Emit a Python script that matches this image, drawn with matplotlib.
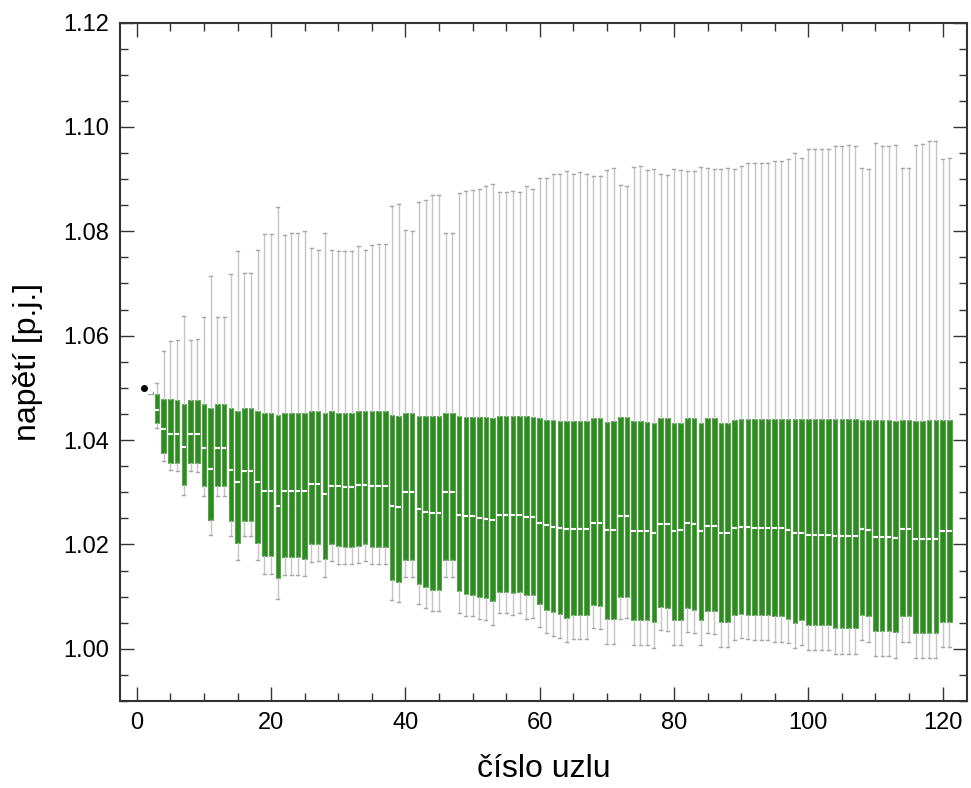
import numpy as np
import matplotlib
matplotlib.use('Agg')
from matplotlib import pyplot as plt
from matplotlib.ticker import MultipleLocator, FormatStrFormatter

plt.rcParams['font.family'] = ['Liberation Sans', 'DejaVu Sans']

# node 1 is a single value (slack bus)
node1_x = 1
node1_val = 1.05

# nodes 2..121
nodes = list(range(2, 122))

whis_hi = [1.0492, 1.0509, 1.0571, 1.0589, 1.0592, 1.0637, 1.0592, 1.0593, 1.0636, 1.0714,
           1.0636, 1.0636, 1.0719, 1.0763, 1.0720, 1.0720, 1.0764, 1.0794, 1.0794, 1.0846,
           1.0793, 1.0796, 1.0796, 1.0800, 1.0768, 1.0764, 1.0796, 1.0765, 1.0763, 1.0762,
           1.0762, 1.0771, 1.0765, 1.0773, 1.0775, 1.0775, 1.0848, 1.0852, 1.0802, 1.0801,
           1.0856, 1.0860, 1.0870, 1.0870, 1.0797, 1.0796, 1.0873, 1.0878, 1.0879, 1.0882,
           1.0887, 1.0890, 1.0875, 1.0875, 1.0878, 1.0875, 1.0886, 1.0881, 1.0903, 1.0903,
           1.0910, 1.0910, 1.0916, 1.0910, 1.0913, 1.0910, 1.0905, 1.0905, 1.0918, 1.0922,
           1.0888, 1.0887, 1.0924, 1.0925, 1.0918, 1.0920, 1.0910, 1.0908, 1.0920, 1.0918,
           1.0915, 1.0916, 1.0924, 1.0922, 1.0920, 1.0920, 1.0922, 1.0920, 1.0925, 1.0930,
           1.0931, 1.0931, 1.0931, 1.0935, 1.0934, 1.0939, 1.0950, 1.0941, 1.0958, 1.0957,
           1.0957, 1.0957, 1.0964, 1.0964, 1.0965, 1.0964, 1.0921, 1.0919, 1.0970, 1.0964,
           1.0964, 1.0965, 1.0922, 1.0921, 1.0965, 1.0967, 1.0973, 1.0973, 1.0939, 1.0941]

q3 = [1.0492, 1.0489, 1.0479, 1.0478, 1.0477, 1.0470, 1.0477, 1.0477, 1.0469, 1.0462,
      1.0469, 1.0469, 1.0462, 1.0455, 1.0462, 1.0462, 1.0455, 1.0452, 1.0452, 1.0448,
      1.0451, 1.0452, 1.0452, 1.0452, 1.0455, 1.0455, 1.0451, 1.0455, 1.0452, 1.0452,
      1.0452, 1.0455, 1.0455, 1.0455, 1.0455, 1.0455, 1.0448, 1.0447, 1.0452, 1.0452,
      1.0447, 1.0447, 1.0446, 1.0446, 1.0451, 1.0451, 1.0446, 1.0445, 1.0445, 1.0445,
      1.0444, 1.0442, 1.0446, 1.0446, 1.0446, 1.0446, 1.0446, 1.0445, 1.0442, 1.0439,
      1.0439, 1.0437, 1.0436, 1.0436, 1.0436, 1.0436, 1.0442, 1.0442, 1.0435, 1.0436,
      1.0445, 1.0445, 1.0436, 1.0436, 1.0435, 1.0433, 1.0442, 1.0442, 1.0433, 1.0432,
      1.0442, 1.0442, 1.0433, 1.0442, 1.0442, 1.0432, 1.0432, 1.0438, 1.0441, 1.0441,
      1.0441, 1.0441, 1.0441, 1.0441, 1.0441, 1.0441, 1.0440, 1.0440, 1.0440, 1.0440,
      1.0440, 1.0440, 1.0440, 1.0440, 1.0440, 1.0440, 1.0438, 1.0438, 1.0438, 1.0438,
      1.0438, 1.0437, 1.0438, 1.0438, 1.0436, 1.0437, 1.0438, 1.0438, 1.0438, 1.0438]

med = [1.0490, 1.0457, 1.0422, 1.0411, 1.0411, 1.0386, 1.0411, 1.0411, 1.0384, 1.0344,
       1.0384, 1.0384, 1.0343, 1.0319, 1.0341, 1.0341, 1.0319, 1.0303, 1.0303, 1.0274,
       1.0302, 1.0302, 1.0302, 1.0302, 1.0316, 1.0316, 1.0297, 1.0312, 1.0312, 1.0311,
       1.0311, 1.0314, 1.0314, 1.0312, 1.0312, 1.0312, 1.0273, 1.0271, 1.0301, 1.0300,
       1.0268, 1.0263, 1.0260, 1.0260, 1.0300, 1.0300, 1.0257, 1.0254, 1.0254, 1.0251,
       1.0249, 1.0246, 1.0257, 1.0257, 1.0256, 1.0256, 1.0252, 1.0252, 1.0241, 1.0237,
       1.0234, 1.0232, 1.0229, 1.0230, 1.0230, 1.0230, 1.0242, 1.0241, 1.0227, 1.0227,
       1.0254, 1.0254, 1.0225, 1.0225, 1.0225, 1.0222, 1.0240, 1.0240, 1.0225, 1.0227,
       1.0242, 1.0239, 1.0225, 1.0236, 1.0236, 1.0221, 1.0221, 1.0231, 1.0233, 1.0233,
       1.0232, 1.0232, 1.0231, 1.0231, 1.0231, 1.0228, 1.0222, 1.0222, 1.0218, 1.0219,
       1.0219, 1.0219, 1.0216, 1.0216, 1.0216, 1.0216, 1.0229, 1.0228, 1.0214, 1.0214,
       1.0214, 1.0212, 1.0229, 1.0229, 1.0211, 1.0211, 1.0211, 1.0211, 1.0225, 1.0225]

q1 = [1.0488, 1.0432, 1.0375, 1.0356, 1.0356, 1.0314, 1.0356, 1.0356, 1.0312, 1.0246,
      1.0312, 1.0312, 1.0244, 1.0203, 1.0244, 1.0244, 1.0203, 1.0178, 1.0178, 1.0135,
      1.0175, 1.0176, 1.0176, 1.0173, 1.0200, 1.0200, 1.0173, 1.0200, 1.0197, 1.0195,
      1.0195, 1.0197, 1.0200, 1.0196, 1.0196, 1.0196, 1.0132, 1.0128, 1.0171, 1.0171,
      1.0125, 1.0119, 1.0112, 1.0112, 1.0171, 1.0170, 1.0110, 1.0105, 1.0103, 1.0099,
      1.0097, 1.0091, 1.0109, 1.0109, 1.0107, 1.0109, 1.0103, 1.0103, 1.0085, 1.0075,
      1.0071, 1.0067, 1.0060, 1.0064, 1.0064, 1.0064, 1.0084, 1.0082, 1.0057, 1.0057,
      1.0100, 1.0100, 1.0056, 1.0056, 1.0056, 1.0051, 1.0080, 1.0079, 1.0055, 1.0056,
      1.0078, 1.0074, 1.0056, 1.0073, 1.0073, 1.0051, 1.0051, 1.0065, 1.0066, 1.0065,
      1.0064, 1.0064, 1.0064, 1.0062, 1.0062, 1.0057, 1.0050, 1.0055, 1.0045, 1.0046,
      1.0046, 1.0046, 1.0039, 1.0039, 1.0039, 1.0039, 1.0064, 1.0063, 1.0035, 1.0035,
      1.0035, 1.0033, 1.0062, 1.0062, 1.0031, 1.0031, 1.0031, 1.0031, 1.0051, 1.0051]

whis_lo = [1.0488, 1.0424, 1.0360, 1.0342, 1.0340, 1.0294, 1.0340, 1.0339, 1.0293, 1.0218,
           1.0292, 1.0292, 1.0216, 1.0171, 1.0216, 1.0216, 1.0170, 1.0143, 1.0143, 1.0095,
           1.0142, 1.0142, 1.0142, 1.0140, 1.0167, 1.0169, 1.0137, 1.0168, 1.0163, 1.0162,
           1.0162, 1.0164, 1.0168, 1.0163, 1.0163, 1.0163, 1.0093, 1.0090, 1.0137, 1.0137,
           1.0085, 1.0079, 1.0072, 1.0072, 1.0137, 1.0137, 1.0069, 1.0063, 1.0062, 1.0057,
           1.0055, 1.0046, 1.0069, 1.0068, 1.0065, 1.0068, 1.0058, 1.0060, 1.0041, 1.0030,
           1.0025, 1.0020, 1.0014, 1.0019, 1.0018, 1.0018, 1.0039, 1.0038, 1.0010, 1.0010,
           1.0058, 1.0059, 1.0008, 1.0008, 1.0008, 1.0002, 1.0036, 1.0034, 1.0008, 1.0008,
           1.0033, 1.0031, 1.0007, 1.0030, 1.0029, 1.0003, 1.0003, 1.0017, 1.0020, 1.0018,
           1.0017, 1.0017, 1.0017, 1.0014, 1.0014, 1.0011, 1.0002, 1.0007, 0.9997, 0.9998,
           0.9997, 0.9997, 0.9990, 0.9990, 0.9990, 0.9990, 1.0016, 1.0014, 0.9986, 0.9987,
           0.9986, 0.9983, 1.0014, 1.0014, 0.9982, 0.9982, 0.9983, 0.9983, 1.0003, 1.0004]

stats = []
for i in range(len(nodes)):
    stats.append({'whislo': whis_lo[i], 'q1': q1[i], 'med': med[i],
                  'q3': q3[i], 'whishi': whis_hi[i], 'fliers': []})

fig = plt.figure(figsize=(9.71, 7.88), dpi=100)
ax = fig.add_axes([0.1236, 0.1104, 0.872, 0.861])

ax.bxp(stats, positions=nodes, widths=0.68, patch_artist=True,
       showfliers=False, capwidths=0.45,
       boxprops=dict(facecolor='#2e8b22', edgecolor='#3a9a2e', linewidth=0.5),
       medianprops=dict(color='white', linewidth=1.5),
       whiskerprops=dict(color='#c4c4c4', linewidth=1.0),
       capprops=dict(color='#a8a8a8', linewidth=1.0),
       manage_ticks=False)

ax.plot([node1_x], [node1_val], 'o', color='black', markersize=4)

ax.set_xlim(-2.5, 123.6)
ax.set_ylim(0.99, 1.12)

ax.xaxis.set_major_locator(MultipleLocator(20))
ax.xaxis.set_minor_locator(MultipleLocator(5))
ax.yaxis.set_major_locator(MultipleLocator(0.02))
ax.yaxis.set_minor_locator(MultipleLocator(0.005))
ax.yaxis.set_major_formatter(FormatStrFormatter('%.2f'))

ax.tick_params(which='both', direction='in', top=True, right=True,
               colors='#333333', labelcolor='black', labelsize=17, width=1.0)
ax.tick_params(which='major', length=10, pad=8)
ax.tick_params(which='minor', length=6)

for s in ax.spines.values():
    s.set_linewidth(1.5)
    s.set_color('#333333')

ax.set_xlabel('číslo uzlu', fontsize=23, labelpad=14)
ax.set_ylabel('napětí [p.j.]', fontsize=23, labelpad=14)

fig.savefig('out.png', dpi=100)
